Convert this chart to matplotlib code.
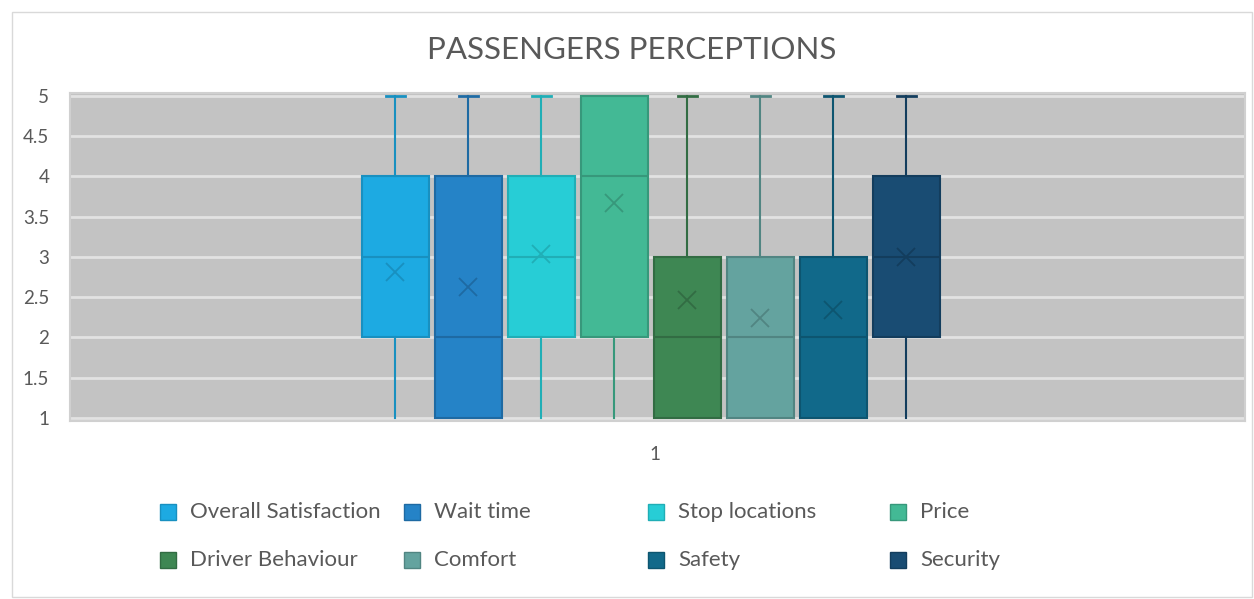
import matplotlib
matplotlib.use("Agg")
import matplotlib.pyplot as plt
from matplotlib.patches import Rectangle

categories = ["Overall Satisfaction", "Wait time", "Stop locations", "Price",
              "Driver Behaviour", "Comfort", "Safety", "Security"]
mins    = [1, 1, 1, 1, 1, 1, 1, 1]
q1s     = [2, 1, 2, 2, 1, 1, 1, 2]
medians = [3, 2, 3, 4, 2, 2, 2, 3]
q3s     = [4, 4, 4, 5, 3, 3, 3, 4]
maxs    = [5, 5, 5, 5, 5, 5, 5, 5]
means   = [2.81, 2.63, 3.04, 3.67, 2.46, 2.24, 2.34, 3.00]
x_label = "1"
y_ticks = [1, 1.5, 2, 2.5, 3, 3.5, 4, 4.5, 5]
y_tick_labels = ["1", "1.5", "2", "2.5", "3", "3.5", "4", "4.5", "5"]

fills = ["#1DAAE2", "#2583C7", "#27CDD6", "#43B995",
         "#3E8753", "#64A39F", "#11698A", "#194C73"]
edges = ["#1890C0", "#1E6AA3", "#20AEB6", "#37987B",
         "#326C43", "#518582", "#0D5570", "#133D5D"]

plt.rcParams['font.family'] = ['Lato', 'DejaVu Sans']

fig = plt.figure(figsize=(12.54, 5.99), dpi=100)
ax = fig.add_axes([70/1254, 1-421/599, 1175/1254, 328/599])

ax.set_facecolor("#c3c3c3")
for y in y_ticks:
    ax.axhline(y, color="#e2e2e2", lw=2, zorder=0.5)

n = len(categories)
positions = [i - (n - 1) / 2 for i in range(n)]
for i in range(n):
    st = dict(med=medians[i], q1=q1s[i], q3=q3s[i], whislo=mins[i],
              whishi=maxs[i], mean=means[i], fliers=[])
    res = ax.bxp([st], positions=[positions[i]], widths=0.92, patch_artist=True,
                 showmeans=True, capwidths=0.27,
                 boxprops=dict(facecolor=fills[i], edgecolor=edges[i], lw=1.5),
                 medianprops=dict(color=edges[i], lw=1.5),
                 whiskerprops=dict(color=edges[i], lw=1.5),
                 capprops=dict(color=edges[i], lw=2),
                 meanprops=dict(marker="x", markeredgecolor=edges[i],
                                markersize=13, markeredgewidth=1.3),
                 manage_ticks=False)
    res["caps"][0].set_visible(False)
    if maxs[i] == q3s[i]:
        res["caps"][1].set_visible(False)

ax.set_xlim(-7.96, 8.14)
ax.set_ylim(0.96, 5.035)
ax.set_yticks(y_ticks)
ax.set_yticklabels(y_tick_labels, fontsize=13.5, color="#595959")
ax.set_xticks([0.05])
ax.set_xticklabels([x_label], fontsize=13.5, color="#595959")
ax.tick_params(axis="both", length=0)
ax.tick_params(axis="x", pad=18)
ax.tick_params(axis="y", pad=15)
for s in ax.spines.values():
    s.set_color("#d0d0d0")
    s.set_linewidth(1.5)

fig.text(632/1254, 1-50/599, "PASSENGERS PERCEPTIONS", ha="center", va="center",
         fontsize=22.5, color="#595959")

# legend
col_x = [160, 404, 648, 890]
row_y = [512, 560]
for i, cat in enumerate(categories):
    cx = col_x[i % 4]
    cy = row_y[i // 4]
    fig.patches.append(Rectangle((cx/1254, 1-(cy+8)/599), 16/1254, 16/599,
                                 transform=fig.transFigure, facecolor=fills[i],
                                 edgecolor=edges[i], lw=1))
    fig.text((cx+30)/1254, 1-cy/599, cat, ha="left", va="center",
             fontsize=16, color="#595959")

fig.patches.append(Rectangle((12/1254, 2/599), 1240/1254, 585/599,
                             transform=fig.transFigure, facecolor="none",
                             edgecolor="#d9d9d9", lw=1))

fig.savefig("out.png", dpi=100)
